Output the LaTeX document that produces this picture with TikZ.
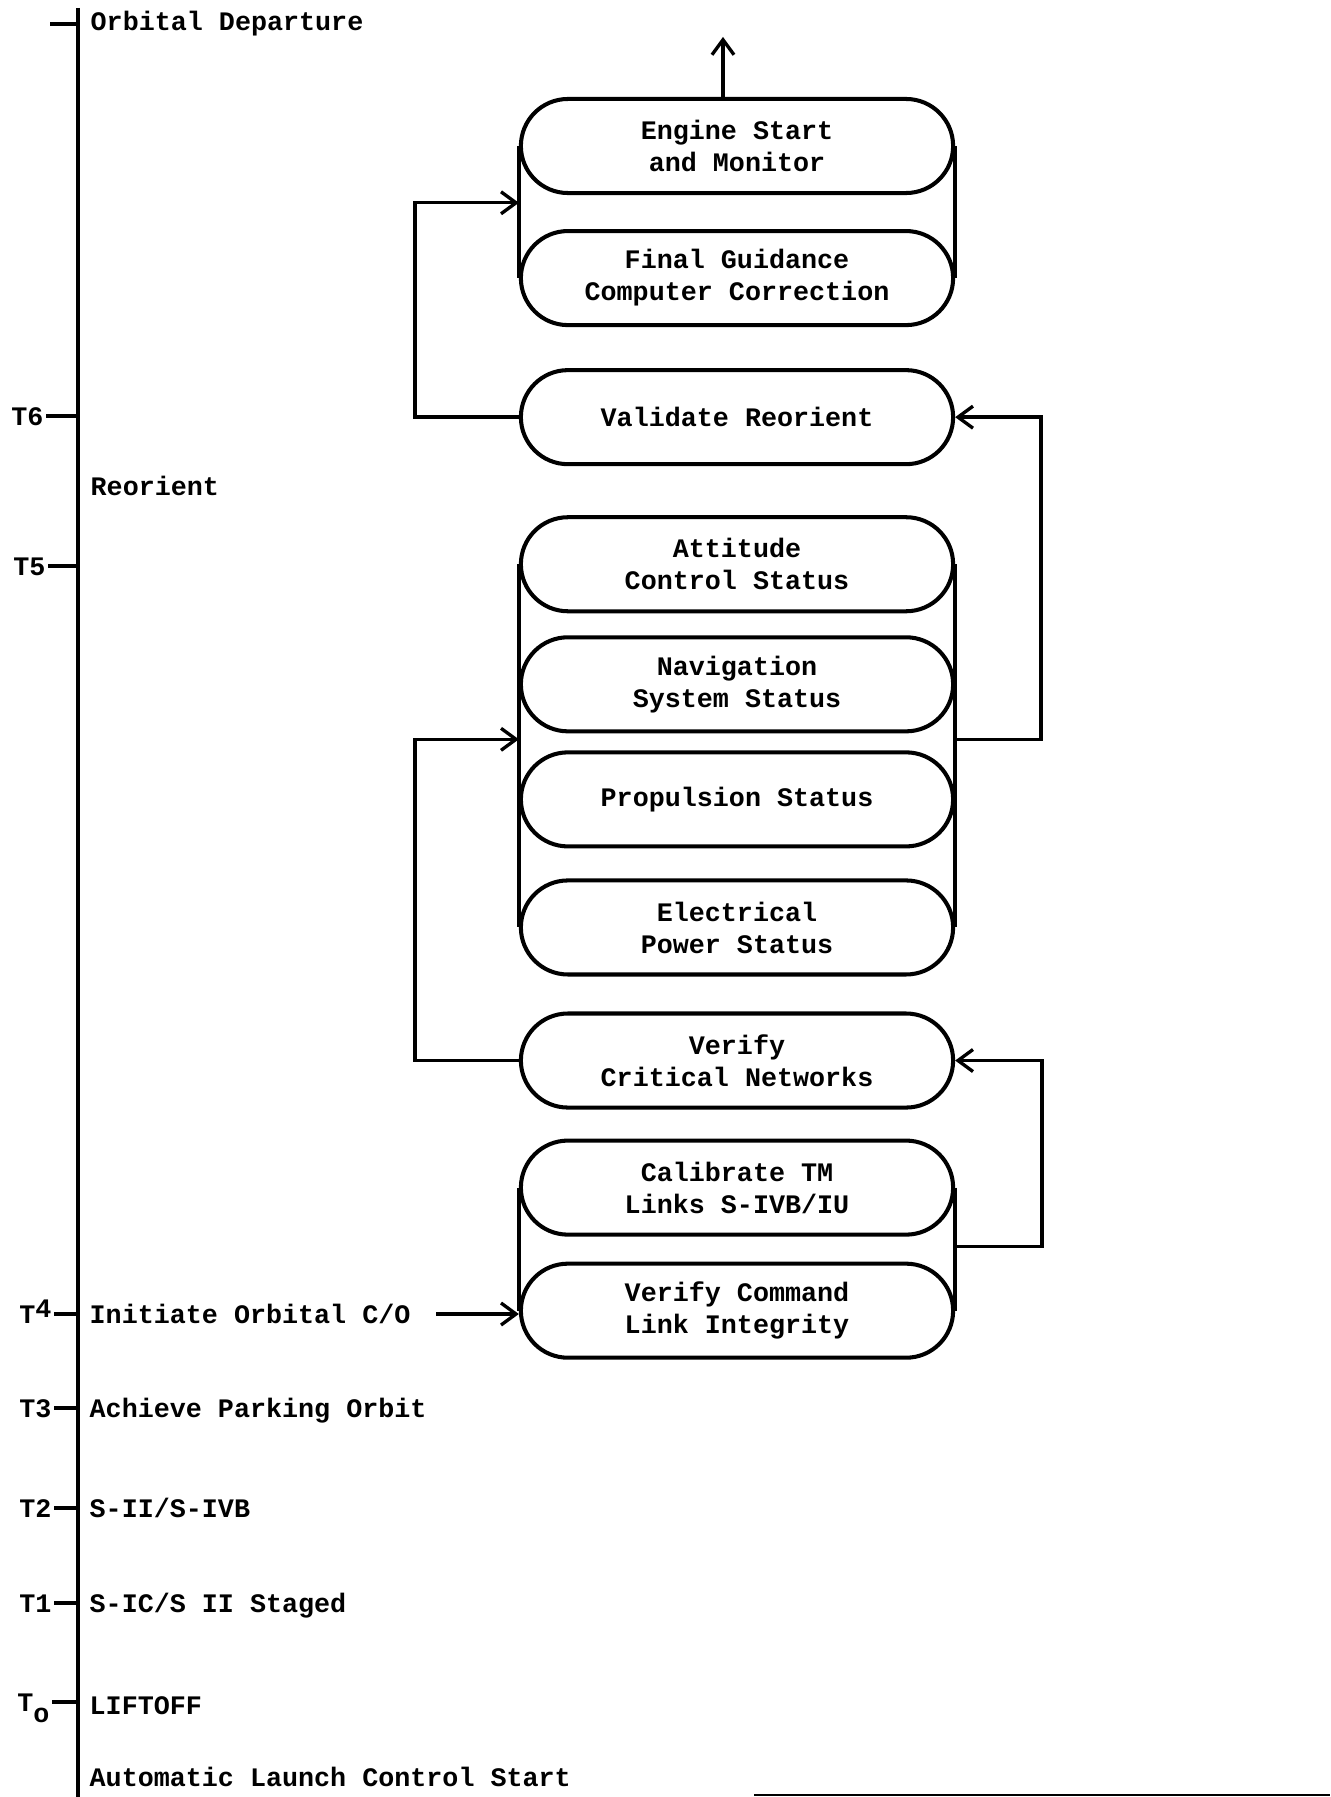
\documentclass[tikz,border=0pt]{standalone}
\usepackage{fontspec}
\setmainfont{Liberation Mono}
\usetikzlibrary{positioning,arrows.meta}

\begin{document}
\begin{tikzpicture}
[x=0.01cm, y=-0.01cm, node distance=1.3cm, on grid,
 font=\fontsize{7.6}{9.1}\selectfont\bfseries,
 >={Straight Barb[length=1.5mm,width=2.2mm]},
 phase/.style={draw, line width=1.15pt, rounded corners=0.47cm, minimum width=4.32cm,
   minimum height=0.94cm, align=center, inner sep=0pt},
 stack/.style={line width=1.15pt},
 link/.style={line width=0.95pt},
 event/.style={anchor=west, inner sep=0pt, text height=1.8mm, text depth=0mm},
 tlabel/.style={anchor=east, inner sep=0.1mm, text height=1.8mm, text depth=0mm}]

\useasboundingbox (0,0) rectangle (1330,1797);

% time line
\draw[link] (78,8) -- (78,1797);
\draw[link] (78,24) -- ++(-28,0);
\node[event] (departure) at (90,21) {Orbital Departure};

\draw[link] (78,416) -- ++(-32,0) node[tlabel] (t6) {T6};
\node[event] (reorient) at (90,486) {Reorient};
\draw[link] (78,566) -- ++(-30,0) node[tlabel] (t5) {T5};

\draw[link] (78,1314) -- ++(-24,0) node[tlabel] (t4) {T\raisebox{0.6mm}{4}};
\node[event] (initiate) at (89,1314) {Initiate Orbital C/O};
\draw[link] (78,1408) -- ++(-24,0) node[tlabel] (t3) {T3};
\node[event] (parking) at (89,1408) {Achieve Parking Orbit};
\draw[link] (78,1508) -- ++(-24,0) node[tlabel] (t2) {T2};
\node[event] (stage2) at (89,1508) {S-II/S-IVB};
\draw[link] (78,1603) -- ++(-24,0) node[tlabel] (t1) {T1};
\node[event] (stage1) at (89,1603) {S-IC/S II Staged};
\draw[link] (78,1702) -- ++(-26,0) node[tlabel] (t0) {T\raisebox{-1.1mm}{o}};
\node[event] (liftoff) at (89,1705) {LIFTOFF};
\node[event] (autostart) at (89,1777) {Automatic Launch Control Start};

% checkout blocks
\node[phase] (engine) at (737,146) {Engine Start\\and Monitor};
\node[phase, below=1.32cm of engine] (guidance) {Final Guidance\\Computer Correction};
\node[phase, below=1.39cm of guidance] (validate) {Validate Reorient};
\node[phase, below=1.47cm of validate] (attitude) {Attitude\\Control Status};
\node[phase, below=1.2cm of attitude] (navigation) {Navigation\\System Status};
\node[phase, below=1.15cm of navigation] (propulsion) {Propulsion Status};
\node[phase, below=1.28cm of propulsion] (electrical) {Electrical\\Power Status};
\node[phase, below=1.33cm of electrical] (networks) {Verify\\Critical Networks};
\node[phase, below=1.27cm of networks] (calibrate) {Calibrate TM\\Links S-IVB/IU};
\node[phase, below=1.23cm of calibrate] (command) {Verify Command\\Link Integrity};

% sides of the stacks
\draw[stack] (engine.west) -- coordinate[pos=0.43] (engine in) (guidance.west);
\draw[stack] (engine.east) -- (guidance.east);
\draw[stack] (attitude.west) -- coordinate[pos=0.482] (status in) (electrical.west);
\draw[stack] (attitude.east) -- coordinate[pos=0.482] (status out) (electrical.east);
\draw[stack] (calibrate.west) -- (command.west);
\draw[stack] (calibrate.east) -- coordinate[pos=0.48] (check out) (command.east);

% flow
\draw[link, ->, shorten <=0.25cm] (initiate.east) -- (initiate.east -| command.west);
\draw[link, ->] (check out) -- ++(87,0) |- (networks.east);
\draw[link, ->] (networks.west) -- ++(-104,0) |- (status in);
\draw[link, ->] (status out) -- ++(86,0) |- (validate.east);
\draw[link, ->] (validate.west) -- ++(-104,0) |- (engine in);
\draw[link, ->] ([xshift=-0.14cm]engine.north) -- ++(0,-60);

\draw[line width=0.6pt] (754,1795) -- (1330,1795);

\end{tikzpicture}
\end{document}
